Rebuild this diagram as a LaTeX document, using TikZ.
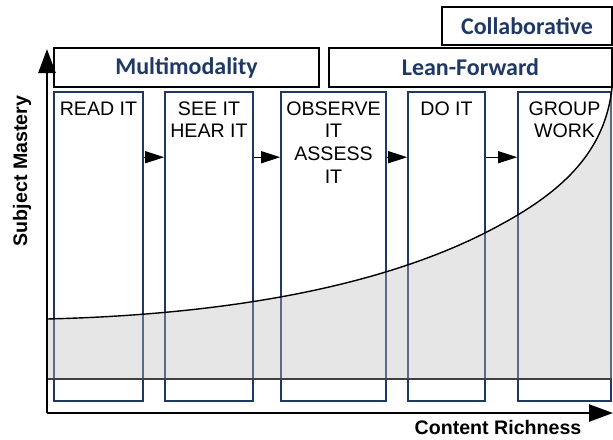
\documentclass[tikz,border=0pt]{standalone}
\usepackage{fontspec}
\setmainfont{Liberation Sans}
\newfontfamily\headfont{Carlito}
\usetikzlibrary{arrows.meta}

\definecolor{stageblue}{RGB}{31,56,100}
\definecolor{masteryfill}{RGB}{188,190,193}

\tikzset{
  header/.style={draw=black, line width=.8pt, fill=white, inner sep=0pt,
    font=\headfont\bfseries\fontsize{12}{14}\selectfont, text=stageblue},
  stage/.style={draw=stageblue, line width=.8pt, minimum height=154.5pt, inner sep=0pt},
  stagename/.style={anchor=north, align=center, inner sep=0pt, yshift=-5pt,
    font=\fontsize{9.8}{11.3}\selectfont},
  stagearrow/.style={-{Triangle[length=9.5pt,width=6pt]}, line width=.6pt},
  axis/.style={line width=1.3pt, -{Triangle[length=12pt,width=8.5pt]}},
  axislabel/.style={font=\bfseries\fontsize{9.8}{12}\selectfont},
}

\begin{document}
\begin{tikzpicture}[x=.5pt,y=-.5pt]
    \useasboundingbox (0,0) rectangle (613,439);

    % phases on top
    \node[header, minimum width=85pt, minimum height=19pt] (collab) at (527,26) {Collaborative};
    \node[header, minimum width=132.5pt, minimum height=19.5pt] (multi) at (186.5,67.5) {Multimodality};
    \node[header, minimum width=141.5pt, minimum height=19.5pt] (lean) at (470.5,67.5) {Lean-Forward};

    % the five stages
    \node[stage, minimum width=44.5pt, label={[stagename]north:READ IT}] (read) at (98.5,246.5) {};
    \node[stage, minimum width=44pt, label={[stagename]north:{SEE IT\\HEAR IT}}] (see) at (209,246.5) {};
    \node[stage, minimum width=52.5pt, label={[stagename]north:{OBSERVE\\IT\\ASSESS\\IT}}] (observe) at (333.5,246.5) {};
    \node[stage, minimum width=38.5pt, label={[stagename]north:DO IT}] (doit) at (446.5,246.5) {};
    \node[stage, minimum width=46.5pt, label={[stagename]north:{GROUP\\WORK}}] (group) at (564.5,246.5) {};

    \foreach \b [remember=\b as \a (initially read)] in {see,observe,doit,group}
        \draw[stagearrow] ([yshift=-33pt]\a.north east) -- ([yshift=-33pt]\b.north west);

    % mastery area under the curve
    \fill[masteryfill, fill opacity=.38] (47,379) -- (47,319)
        .. controls (250,314) and (400,280) .. (500,225)
        .. controls (565,190) and (605,150) .. (612,88) -- (612,379) -- cycle;
    \draw[line width=.7pt] (47,319)
        .. controls (250,314) and (400,280) .. (500,225)
        .. controls (565,190) and (605,150) .. (612,88);
    \draw[line width=.6pt, black!75] (47,379) -- (612,379);

    % axes
    \coordinate (origin) at (47,413);
    \coordinate (ytip) at (47,49);
    \coordinate (xtip) at (613,413);
    \draw[axis] (origin) -- (ytip);
    \draw[axis] (origin) -- (xtip);
    \node[axislabel, rotate=90] (ylab) at (22,171) {Subject Mastery};
    \node[axislabel] (xlab) at (498,427) {Content Richness};
\end{tikzpicture}
\end{document}
